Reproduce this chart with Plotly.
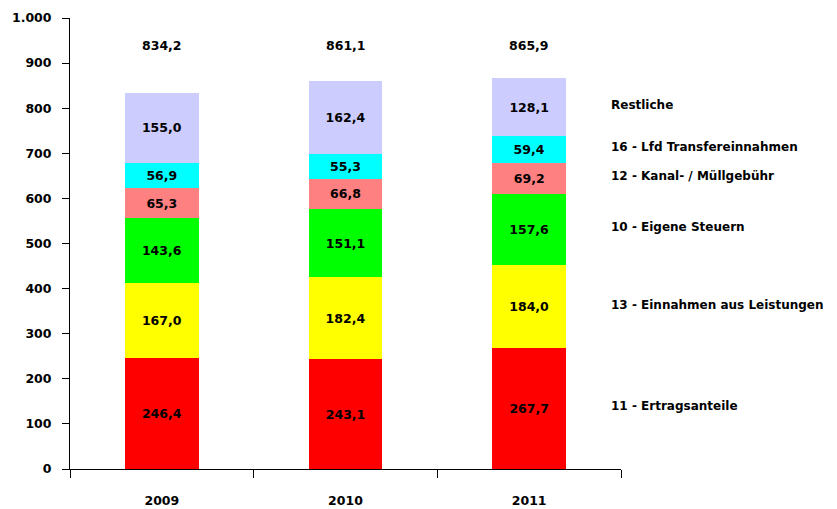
import plotly.graph_objects as go

years = ["2009", "2010", "2011"]
series_names = [
    "11 - Ertragsanteile",
    "13 - Einnahmen aus Leistungen",
    "10 - Eigene Steuern",
    "12 - Kanal- / Müllgebühr",
    "16 - Lfd Transfereinnahmen",
    "Restliche",
]
ertragsanteile = [246.4, 243.1, 267.7]
einnahmen_leistungen = [167.0, 182.4, 184.0]
eigene_steuern = [143.6, 151.1, 157.6]
kanal_muell = [65.3, 66.8, 69.2]
transfer = [56.9, 55.3, 59.4]
restliche = [155.0, 162.4, 128.1]
totals = [834.2, 861.1, 865.9]
yticks = [0, 100, 200, 300, 400, 500, 600, 700, 800, 900, 1000]

series_values = [ertragsanteile, einnahmen_leistungen, eigene_steuern, kanal_muell, transfer, restliche]
colors = ["#FF0000", "#FFFF00", "#00FF00", "#FF8080", "#00FFFF", "#CCCCFF"]

xpos = list(range(len(years)))
boundaries = [i - 0.5 for i in range(len(years) + 1)]

FONT = "DejaVu Sans"
fig = go.Figure()
for name, vals, col in zip(series_names, series_values, colors):
    fig.add_trace(go.Bar(
        x=xpos, y=vals, name=name, width=0.4,
        marker=dict(color=col, line=dict(width=0)),
        texttemplate="%{y:.1f}", textposition="inside", insidetextanchor="middle",
        textangle=0,
        textfont=dict(family=FONT, size=12.5, color="black", weight="bold"),
    ))

# totals above bars
for xp, t in zip(xpos, totals):
    fig.add_annotation(x=xp, y=940, text=f"{t:.1f}".replace(".", ","), showarrow=False,
                       font=dict(family=FONT, size=12.5, color="black", weight="bold"),
                       xref="x", yref="y")

# series labels on the right, aligned with the 2011 segments
cum = 0
for name, vals in zip(series_names, series_values):
    mid = cum + vals[2] / 2
    cum += vals[2]
    fig.add_annotation(x=1.0, xref="paper", xshift=-12, y=mid + 5, yref="y", text=name,
                       showarrow=False, xanchor="left",
                       font=dict(family=FONT, size=12, color="black", weight="bold"))

fig.update_layout(
    width=829, height=501,
    barmode="stack",
    separators=",.",
    showlegend=False,
    plot_bgcolor="white", paper_bgcolor="white",
    margin=dict(l=62, r=216, t=10, b=40, autoexpand=False),
    font=dict(family=FONT, size=12, color="black"),
    xaxis=dict(range=[-0.5, len(years) - 0.5], tickvals=xpos, ticktext=years,
               ticks="", showline=True, linecolor="black",
               linewidth=1, showgrid=False, zeroline=False, automargin=False,
               minor=dict(tickvals=boundaries, ticks="outside", ticklen=8,
                          tickcolor="black", tickwidth=1, showgrid=False),
               tickfont=dict(family=FONT, size=12.5, color="black", weight="bold"),
               ticklabelstandoff=20),
    yaxis=dict(range=[0, 1000], tickvals=yticks, tickformat=",d", ticks="outside",
               ticklen=7, tickcolor="black", tickwidth=1, showline=True,
               linecolor="black", linewidth=1, showgrid=False, zeroline=False,
               automargin=False,
               tickfont=dict(family=FONT, size=12.5, color="black", weight="bold"),
               ticklabelstandoff=8),
)

fig.write_html("out.html")
